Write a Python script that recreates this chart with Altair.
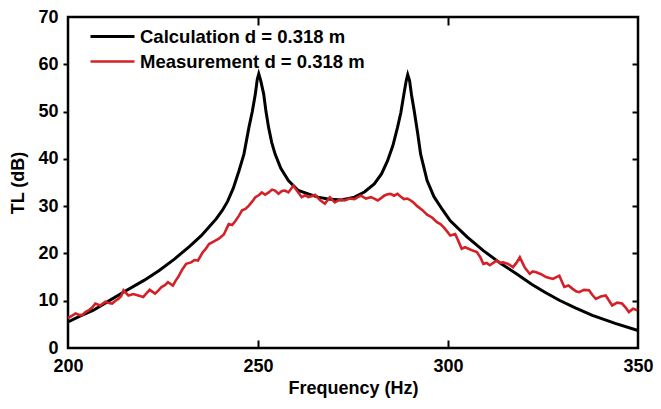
import altair as alt
import pandas as pd

S_CALC = "Calculation d = 0.318 m"
S_MEAS = "Measurement d = 0.318 m"

calc_f = [200, 203, 206.7, 210, 215, 220, 224, 228, 232, 235, 237, 239, 240.6, 242, 243.5,
          245, 246.3, 247.6, 248.5, 249.3, 249.8, 250.2, 250.7, 251.5, 252.1, 252.8, 253.6,
          254.5, 256, 258, 260.6, 263.2, 265.8, 268.4, 272, 275.4, 278, 280.6, 282.5, 284.1,
          285.5, 286.7, 287.6, 288.4, 289.0, 289.4, 289.9, 290.4, 291.1, 292.0, 292.8, 294.5,
          296.3, 298.5, 300.6, 305, 309.3, 314, 318, 322, 325.5, 329.3, 333.5, 338, 344, 350]
calc_tl = [5.5, 6.7, 8.0, 9.6, 12.0, 14.3, 16.4, 18.8, 21.5, 23.7, 25.5, 27.3, 29.1, 31.0, 33.8,
           37.5, 41.0, 46.6, 50.0, 53.7, 56.8, 58.0, 56.6, 53.7, 50.0, 46.6, 43.5,
           41.0, 38.0, 35.4, 33.3, 32.6, 31.9, 31.5, 31.3, 31.9, 33.0, 34.7, 36.8, 39.6,
           42.8, 46.6, 49.8, 53.7, 56.5, 57.8, 56.5, 53.5, 50.2, 45.5, 41.0, 35.4,
           32.0, 29.3, 26.9, 23.5, 20.6, 17.8, 15.7, 13.5, 11.8, 10.1, 8.5, 6.9, 5.2, 3.7]

meas_f = [200, 201, 202, 203, 203.7, 204.6, 205.5, 206.4, 207.2, 208.5, 209.8, 210.7, 211.6,
          212.5, 213.3, 214.0, 214.6, 215.9, 217.2, 218.5, 219.8, 220.7, 221.5, 222.9, 223.8,
          224.6, 225.5, 226.3, 227.6, 228.3, 229, 230, 231.1, 232.4, 233.3, 234.2, 235.5, 236.3,
          237.1, 238.3, 239.7, 241, 242.3, 243.2, 244.1, 245.0, 245.8, 246.7, 247.6, 248.5,
          249.3, 250.2, 251, 251.9, 252.8, 253.7, 254.5, 255.4, 256.3, 257.1, 258, 259.3,
          260.6, 261.5, 262.4, 263.2, 264.1, 265, 266.3, 267.6, 268.9, 270.2, 271.5, 272.8,
          274.1, 275.4, 276.3, 277.1, 278.4, 279.7, 280.6, 281.5, 282.4, 283.2, 284.1, 284.9,
          285.8, 286.7, 287.6, 288.4, 289.3, 290.2, 291.0, 291.9, 293.2, 294.5, 295.8, 297.1,
          298.0, 298.9, 299.8, 300.6, 301.9, 302.8, 303.6, 304.5, 305.4, 306.5, 307.6, 308.5,
          309.3, 310.2, 311, 311.9, 312.8, 313.7, 314.5, 315.8, 317.1, 318.0, 318.9, 320.2,
          321.5, 322.3, 323.2, 324.5, 325.8, 326.7, 327.6, 328.5, 329.3, 330.6, 331.7, 332.8,
          333.7, 334.5, 335.8, 337.1, 338.0, 338.9, 340.2, 341.5, 342.4, 343.2, 344.5, 345.8,
          346.7, 347.6, 348.7, 349.8]
meas_tl = [6.3, 6.8, 7.3, 7.0, 6.9, 7.6, 8.0, 8.6, 9.4, 9.0, 9.8, 9.5, 9.4,
           10.0, 10.4, 11.0, 12.2, 11.1, 11.4, 11.1, 10.8, 11.6, 12.3, 11.5, 12.2,
           12.9, 13.3, 13.9, 13.2, 14.2, 15.0, 16.5, 17.8, 18.1, 18.6, 18.5, 20.3, 21.0,
           22.0, 22.5, 23.1, 24.0, 26.2, 26.0, 26.9, 28.0, 29.1, 29.4, 30.1, 31.0,
           31.9, 32.3, 32.9, 32.4, 32.9, 33.5, 33.3, 32.6, 33.2, 33.3, 32.9, 34.3,
           32.9, 31.9, 32.3, 31.9, 32.1, 32.4, 31.3, 30.5, 31.9, 30.8, 31.4, 31.2,
           31.6, 31.5, 31.9, 32.2, 31.6, 31.9, 31.6, 31.2, 31.7, 32.2, 32.5, 32.6,
           32.2, 32.6, 32.0, 31.5, 31.6, 31.2, 30.7, 30.0, 29.2, 28.2, 27.6, 26.6,
           26.2, 25.5, 24.6, 23.8, 24.1, 22.5, 21.0, 21.3, 21.0, 20.6, 20.3, 19.2,
           17.8, 18.0, 17.5, 18.0, 18.5, 18.0, 18.1, 17.8, 17.1, 18.0, 19.2, 17.0,
           15.7, 16.2, 16.0, 15.6, 15.0, 14.8, 14.6, 15.0, 15.3, 12.9, 13.2, 12.5,
           12.0, 11.8, 12.3, 12.2, 11.2, 10.4, 10.9, 11.1, 10.0, 9.0, 9.6, 9.4,
           8.6, 7.6, 8.3, 8.0]

df = pd.concat([
    pd.DataFrame({"f": calc_f, "tl": calc_tl, "s": S_CALC}),
    pd.DataFrame({"f": meas_f, "tl": meas_tl, "s": S_MEAS}),
], ignore_index=True)

W, H = 570, 331
FONT = "Liberation Sans"
xs = alt.Scale(domain=[200, 350], nice=False, zero=False)
ys = alt.Scale(domain=[0, 70], nice=False)

base = alt.Chart(df)

lines = base.mark_line().encode(
    x=alt.X("f:Q", scale=xs, axis=alt.Axis(
        orient="bottom", values=[200, 250, 300, 350], ticks=False, domain=False, grid=False,
        labelPadding=9, title="Frequency (Hz)", titlePadding=4, labelFlush=False)),
    y=alt.Y("tl:Q", scale=ys, axis=alt.Axis(
        orient="left", values=[0, 10, 20, 30, 40, 50, 60, 70], ticks=False, domain=False,
        grid=False, labelPadding=10, title="TL (dB)", titlePadding=10, labelFlush=False)),
    color=alt.Color("s:N", scale=alt.Scale(domain=[S_CALC, S_MEAS], range=["#000000", "#d42027"]),
                    legend=alt.Legend(title=None, orient="none", legendX=49, legendY=10,
                                      symbolType="M-4.5,0L1,0", symbolSize=256,
                                      symbolStrokeWidth=3,
                                      labelFont=FONT, labelFontSize=18.5, labelFontWeight="bold",
                                      labelColor="black", labelOffset=4, rowPadding=6,
                                      padding=0, labelLimit=400)),
    strokeWidth=alt.StrokeWidth("s:N", scale=alt.Scale(domain=[S_CALC, S_MEAS], range=[3, 2.6]),
                                legend=None),
)

ticks_a = base.mark_line(strokeOpacity=0).encode(
    x=alt.X("f:Q", scale=xs, axis=alt.Axis(
        orient="top", offset=-H, values=[250, 300], labels=False, domain=False, grid=False,
        tickSize=8, tickWidth=2, tickColor="black", title=None)),
    y=alt.Y("tl:Q", scale=ys, axis=alt.Axis(
        orient="left", values=[10, 20, 30, 40, 50, 60], labels=False, domain=False, grid=False,
        tickSize=5, tickWidth=2, tickColor="black", title=None)),
)

ticks_b = base.mark_line(strokeOpacity=0).encode(
    x=alt.X("f:Q", scale=xs, axis=alt.Axis(
        orient="bottom", offset=-H, values=[250, 300], labels=False, domain=False, grid=False,
        tickSize=8, tickWidth=2, tickColor="black", title=None)),
    y=alt.Y("tl:Q", scale=ys, axis=alt.Axis(
        orient="left", offset=-W, values=[10, 20, 30, 40, 50, 60], labels=False, domain=False,
        grid=False, tickSize=6, tickWidth=2, tickColor="black", title=None)),
)

chart = alt.layer(lines, ticks_a, ticks_b).resolve_axis(
    x="independent", y="independent"
).properties(
    width=W, height=H,
    autosize=alt.AutoSizeParams(type="none"),
    padding={"left": 60, "top": 9, "right": 15, "bottom": 52},
).configure_view(
    stroke="black", strokeWidth=2.5
).configure_axis(
    labelFont=FONT, labelFontSize=18, labelFontWeight="bold", labelColor="black",
    titleFont=FONT, titleFontSize=18, titleFontWeight="bold", titleColor="black",
)

chart.save("out.html", embed_options={"renderer": "svg", "actions": False})
